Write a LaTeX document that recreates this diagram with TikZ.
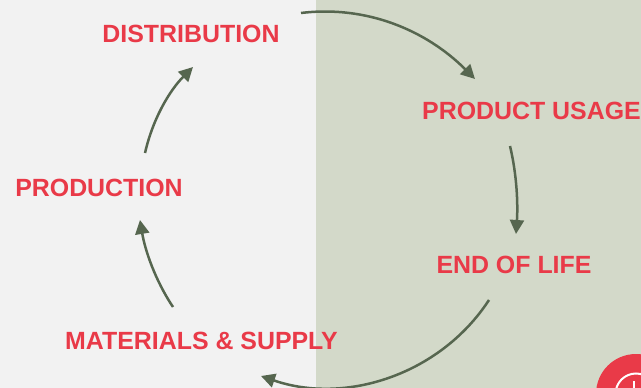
\documentclass[tikz,border=0pt]{standalone}
\usepackage{fontspec}
\setmainfont{Liberation Sans}
\usetikzlibrary{arrows.meta}
\definecolor{leftbg}{HTML}{F2F2F2}
\definecolor{rightbg}{HTML}{D3D9C9}
\definecolor{redtxt}{HTML}{E93A48}
\definecolor{arrowgreen}{HTML}{56664F}
\tikzset{
  stagelabel/.style={text=redtxt,font=\fontsize{24.9}{28}\selectfont\bfseries,inner sep=0pt,anchor=center},
  cyclearrow/.style={draw=arrowgreen,line width=2.5pt,-{Triangle[length=14pt,width=14pt]}}
}
\begin{document}
\begin{tikzpicture}[x=1pt,y=-1pt]
\useasboundingbox (0,0) rectangle (641,388);
\fill[leftbg] (0,0) rectangle (316,388);
\fill[rightbg] (316,0) rectangle (641,388);
\begin{scope}
\clip (0,0) rectangle (641,388);
\fill[redtxt] (636,394) circle (40);
\draw[white,line width=2pt] (636,394) circle (20.5);
\draw[white,line width=2pt] (634,381) -- (634,392);
\end{scope}
\node[stagelabel] (dist) at (191,33.5) {DISTRIBUTION};
\node[stagelabel] (usage) at (531.5,111) {PRODUCT USAGE};
\node[stagelabel] (life) at (514,264.5) {END OF LIFE};
\node[stagelabel] (mat) at (201.5,341) {MATERIALS \& SUPPLY};
\node[stagelabel] (prod) at (99,187.5) {PRODUCTION};
\coordinate (a1) at (301,13);
\coordinate (a2) at (475,79);
\coordinate (b1) at (510,146);
\coordinate (b2) at (516,234);
\coordinate (c1) at (489,300);
\coordinate (c2) at (261,376);
\coordinate (d1) at (173,307);
\coordinate (d2) at (140,220);
\coordinate (e1) at (145,153);
\coordinate (e2) at (193,67);
\draw[cyclearrow] (a1) .. controls (366,5) and (426,30) .. (a2);
\draw[cyclearrow] (b1) .. controls (517,175) and (518,205) .. (b2);
\draw[cyclearrow] (c1) .. controls (440,375) and (345,405) .. (c2);
\draw[cyclearrow] (d1) .. controls (155,280) and (145,250) .. (d2);
\draw[cyclearrow] (e1) .. controls (153,118) and (170,90) .. (e2);
\end{tikzpicture}
\end{document}
